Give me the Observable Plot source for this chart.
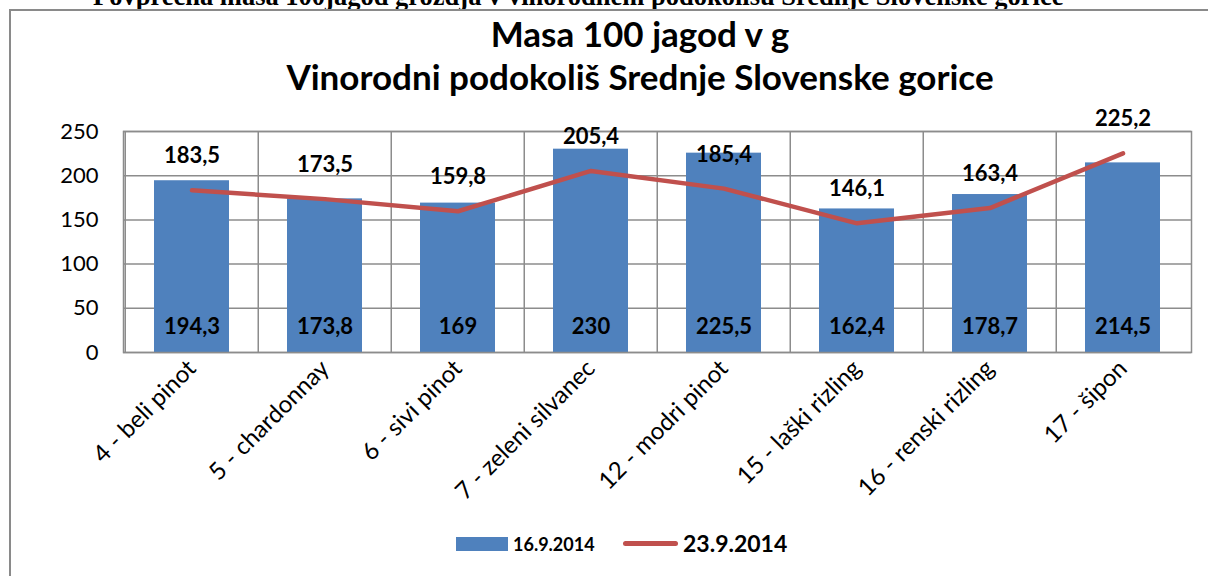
<!DOCTYPE html>
<html>
<head>
<meta charset="utf-8">
<script src="https://cdn.jsdelivr.net/npm/d3@7"></script>
<script src="https://cdn.jsdelivr.net/npm/@observablehq/plot@0.6"></script>
<style>
  html, body { margin: 0; padding: 0; background: #fff; }
  #wrap { position: relative; width: 1208px; height: 576px; overflow: hidden; background: #fff; }
  #frame { position: absolute; left: 9px; top: 9px; width: 1220px; height: 620px; border: 2px solid #8a8a8a; box-sizing: border-box; }
  #doc { position: absolute; left: 93px; top: -16px; font-family: "Liberation Serif", serif; font-weight: bold; font-size: 26.5px; line-height: 24px; white-space: nowrap; color: #000; }
  #title { position: absolute; left: 0; width: 1280px; top: 0; text-align: center; font-family: Lato, sans-serif; font-weight: bold; font-size: 35px; color: #000; }
  #title div { position: absolute; left: 0; width: 1280px; white-space: nowrap; line-height: 35px; }
  #chart { position: absolute; left: 0; top: 0; }
  #legend { position: absolute; left: 0; top: 0; font-family: Lato, sans-serif; font-weight: bold; color: #000; }
  .abs { position: absolute; white-space: nowrap; }
</style>
</head>
<body>
<div id="wrap">
  <div id="doc">Povprečna masa 100jagod grozdja v vinorodnem podokolišu Srednje Slovenske gorice</div>
  <div id="frame"></div>
  <div id="title">
    <div style="top:16px">Masa 100 jagod v g</div>
    <div style="top:59px">Vinorodni podokoliš Srednje Slovenske gorice</div>
  </div>
  <div id="chart"></div>
  <div id="legend">
    <div class="abs" style="left:456px; top:537px; width:52px; height:14px; background:#4F81BD"></div>
    <div class="abs" style="left:513px; top:533px; font-size:18px; line-height:22px">16.9.2014</div>
    <div class="abs" style="left:623px; top:541px; width:55px; height:5px; border-radius:3px; background:#C0504D"></div>
    <div class="abs" style="left:683px; top:529px; font-size:23px; line-height:28px">23.9.2014</div>
  </div>
</div>
<script>
const categories = ["4 - beli pinot", "5 - chardonnay", "6 - sivi pinot", "7 - zeleni silvanec", "12 - modri pinot", "15 - laški rizling", "16 - renski rizling", "17 - šipon"];
const series1609 = [194.3, 173.8, 169, 230, 225.5, 162.4, 178.7, 214.5];
const series2309 = [183.5, 173.5, 159.8, 205.4, 185.4, 146.1, 163.4, 225.2];
const yTicks = [0, 50, 100, 150, 200, 250];

const data = categories.map((c, i) => ({cat: c, v1: series1609[i], v2: series2309[i]}));
const fmt = v => String(v).replace(".", ",");

const W = 1208, H = 520, ML = 123, MR = 17, MT = 131, MB = 168;
const bw = (W - ML - MR) / categories.length;
const gridColor = "#8c8c8c";

const chart = Plot.plot({
  width: W, height: H,
  marginLeft: ML, marginRight: MR, marginTop: MT, marginBottom: MB,
  style: {fontFamily: "Lato, sans-serif", color: "#000", background: "transparent", overflow: "visible"},
  x: {domain: categories, padding: 0, label: null},
  y: {domain: [0, 250], label: null},
  marks: [
    Plot.gridY(yTicks, {stroke: gridColor, strokeOpacity: 1, strokeWidth: 1.5}),
    Plot.ruleX(categories, {x: d => d, dx: -bw / 2, stroke: gridColor, strokeWidth: 1.5}),
    Plot.barY(data, {x: "cat", y: "v1", fill: "#4F81BD", insetLeft: 29, insetRight: 29}),
    Plot.frame({stroke: gridColor, strokeWidth: 1.5}),
    Plot.lineY(data, {x: "cat", y: "v2", stroke: "#C0504D", strokeWidth: 4.5, strokeLinecap: "round", strokeLinejoin: "round"}),
    Plot.text(data, {x: "cat", y: "v2", text: d => fmt(d.v2), dy: -34, fontWeight: "bold", fontSize: 22}),
    Plot.text(data, {x: "cat", y: () => 0, text: d => fmt(d.v1), dy: -26, fontWeight: "bold", fontSize: 22}),
    Plot.axisY(yTicks, {tickSize: 0, tickPadding: 25, fontSize: 22, label: null}),
    Plot.axisX({tickSize: 0, tickPadding: 12, tickRotate: -45, fontSize: 24, label: null})
  ]
});
document.getElementById("chart").appendChild(chart);
</script>
</body>
</html>
